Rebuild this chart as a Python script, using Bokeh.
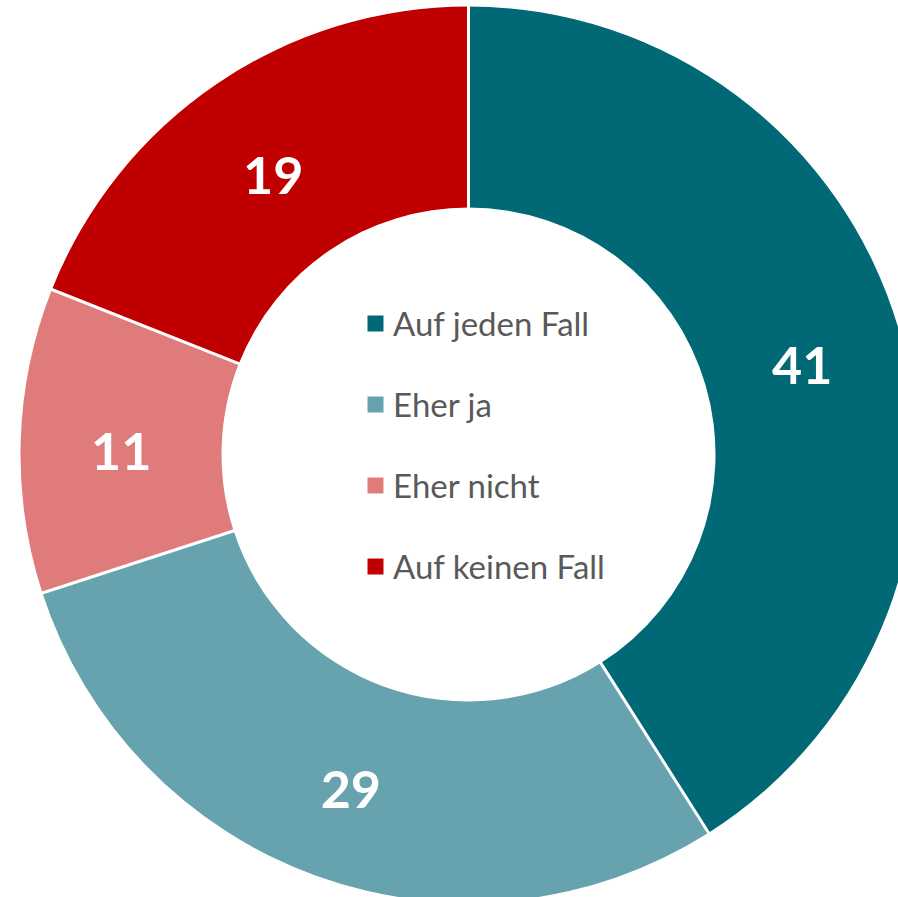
import numpy as np
from bokeh.plotting import figure
from bokeh.models import Range1d, ColumnDataSource
from bokeh.core.properties import value
from bokeh.embed import file_html
from bokeh.resources import INLINE

categories = ["Auf jeden Fall", "Eher ja", "Eher nicht", "Auf keinen Fall"]
values = [41, 29, 11, 19]
colors = ["#016876", "#67A3AE", "#DF7C7B", "#C00000"]

W, H = 898, 897
cx, cy = 468, 443
r_out, r_in = 448, 247

vals = np.array(values, dtype=float)
frac = vals / vals.sum()
c1 = np.cumsum(frac)
c0 = c1 - frac
start = np.pi / 2 - 2 * np.pi * c0
end = np.pi / 2 - 2 * np.pi * c1
mid = np.pi / 2 - 2 * np.pi * (c0 + c1) / 2
r_mid = (r_out + r_in) / 2

src = ColumnDataSource(dict(
    cat=categories, val=[str(v) for v in values], color=colors,
    start=start, end=end,
    lx=cx + r_mid * np.cos(mid), ly=cy + r_mid * np.sin(mid),
))

p = figure(width=W, height=H, x_range=Range1d(0, W), y_range=Range1d(0, H),
           output_backend="svg", toolbar_location=None, min_border=0)
p.axis.visible = False
p.grid.visible = False
p.outline_line_color = None

p.annular_wedge(x=cx, y=cy, inner_radius=r_in, outer_radius=r_out,
                start_angle="start", end_angle="end", direction="clock",
                fill_color="color", line_color=None, legend_field="cat", source=src)

b = np.pi / 2 - 2 * np.pi * c0
p.segment(x0=cx + (r_in - 2) * np.cos(b), y0=cy + (r_in - 2) * np.sin(b),
          x1=cx + (r_out + 5) * np.cos(b), y1=cy + (r_out + 5) * np.sin(b),
          line_color="white", line_width=3)

p.text(x="lx", y="ly", text="val", source=src, text_color="white",
       text_font=value("Lato"), text_font_style="bold", text_font_size="52px",
       text_align="center", text_baseline="middle", y_offset=8)

lg = p.legend[0]
lg.location = (365, 311)
lg.padding = 0
lg.margin = 0
lg.border_line_color = None
lg.background_fill_alpha = 0
lg.glyph_width = 20
lg.glyph_height = 20
lg.label_standoff = 8
lg.spacing = 41
lg.label_text_font = "Lato"
lg.label_text_font_size = "33px"
lg.label_text_color = "#595959"

open("out.html", "w").write(file_html(p, INLINE))
